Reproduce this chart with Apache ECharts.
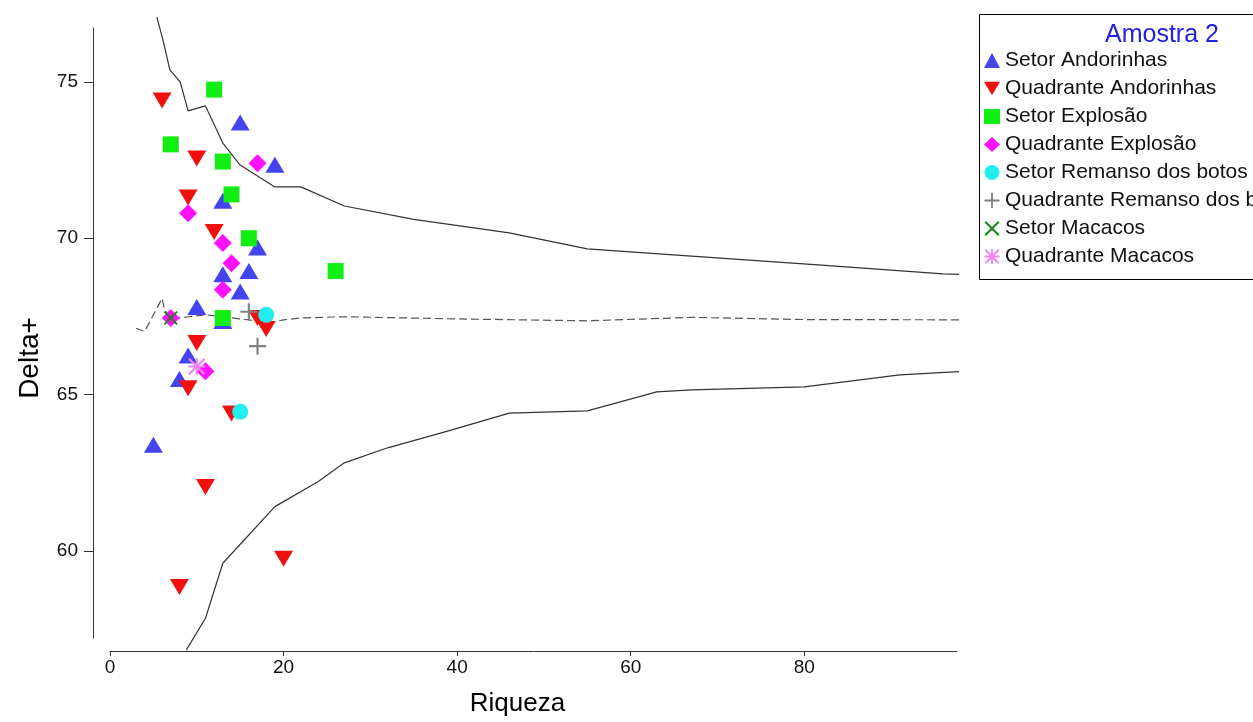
<!DOCTYPE html>
<html>
<head>
<meta charset="utf-8">
<script src="https://cdn.jsdelivr.net/npm/echarts@6/dist/echarts.min.js"></script>
<style>
  html, body { margin: 0; padding: 0; background: #fff; }
  #chart { width: 1253px; height: 722px; }
</style>
</head>
<body>
<div id="chart"></div>
<script>
// tick labels
const xTicks = [0, 20, 40, 60, 80]
const yTicks = [60, 65, 70, 75]

// funnel lines (Riqueza, Delta+)
const upperLimit = [[5.4, 77.07], [6.1, 76.34], [6.9, 75.38], [8.1, 74.99], [9, 74.07], [11, 74.23], [13, 73.04], [15, 72.34], [19, 71.64], [22, 71.64], [27, 71.03], [35, 70.6], [46, 70.17], [55, 69.66], [67, 69.43], [82, 69.14], [96, 68.86], [100, 68.83]]
const meanLine = [[3, 67.12], [4, 67.02], [6, 68.08], [6.3, 67.71], [7, 67.39], [9, 67.49], [11, 67.55], [13, 67.49], [16, 67.39], [18, 67.28], [20, 67.39], [22, 67.45], [27, 67.49], [40, 67.42], [55, 67.36], [67, 67.47], [80, 67.4], [100, 67.39]]
const lowerLimit = [[8.8, 56.84], [11, 57.85], [13, 59.61], [19, 61.42], [24, 62.22], [27, 62.82], [32, 63.3], [39, 63.84], [46, 64.41], [55, 64.48], [63, 65.09], [67, 65.15], [80, 65.25], [91, 65.63], [100, 65.77]]

// samples
const setorAndorinhas = [[5, 63.4], [15, 73.7], [19, 72.35], [13, 71.2], [17, 69.7], [16, 68.95], [13, 68.85], [15, 68.3], [10, 67.8], [13, 67.35], [9, 66.25], [8, 65.5]]
const quadranteAndorinhas = [[6, 74.4], [10, 72.55], [9, 71.3], [12, 70.2], [17, 67.45], [18, 67.1], [10, 66.65], [9, 65.2], [14, 64.4], [11, 62.05], [20, 59.75], [8, 58.85]]
const setorExplosao = [[12, 74.75], [7, 73.0], [13, 72.45], [14, 71.4], [16, 70.0], [13, 67.45], [26, 68.95]]
const quadranteExplosao = [[17, 72.4], [9, 70.8], [13, 69.85], [14, 69.2], [13, 68.35], [7, 67.45], [11, 65.75]]
const setorRemanso = [[18, 67.55], [15, 64.45]]
const quadranteRemanso = [[16, 67.65], [17, 66.55]]
const setorMacacos = [[7, 67.45]]
const quadranteMacacos = [[10, 65.9]]

const downTri = 'path://M0,0L20,0L10,17Z'
const plusPath = 'path://M7,0H9V7H16V9H9V16H7V9H0V7H7Z'
const crossPath = 'path://M0,1.5L1.5,0L8,6.5L14.5,0L16,1.5L9.5,8L16,14.5L14.5,16L8,9.5L1.5,16L0,14.5L6.5,8Z'
const starPath = 'path://M7,0H9V7H16V9H9V16H7V9H0V7H7Z M0,1.5L1.5,0L8,6.5L14.5,0L16,1.5L9.5,8L16,14.5L14.5,16L8,9.5L1.5,16L0,14.5L6.5,8Z'

const font = 'Arial, "Liberation Sans", sans-serif'

const myChart = echarts.init(document.getElementById('chart'))

const lineSeries = (data, dashed) => ({
  type: 'line',
  data: data,
  showSymbol: false,
  clip: false,
  silent: true,
  z: 1,
  lineStyle: {
    color: dashed ? '#555' : '#333',
    width: 1.2,
    type: dashed ? [8, 4] : 'solid'
  }
})

const scatter = (name, data, symbol, size, color) => ({
  name: name,
  type: 'scatter',
  data: data,
  symbol: symbol,
  symbolSize: size,
  clip: false,
  itemStyle: { color: color, opacity: 1 }
})

const option = {
  animation: false,
  backgroundColor: '#fff',
  textStyle: { fontFamily: font },
  title: {
    text: 'Amostra 2',
    left: 1100,
    top: 18,
    textStyle: { color: '#2222dd', fontSize: 25, fontWeight: 'normal', fontFamily: font }
  },
  graphic: [
    {
      type: 'rect',
      shape: { x: 979.5, y: 14.5, width: 400, height: 265 },
      style: { fill: 'none', stroke: '#000', lineWidth: 1 }
    }
  ],
  legend: {
    orient: 'vertical',
    left: 984,
    top: 50,
    itemWidth: 16,
    itemHeight: 15,
    itemGap: 7,
    padding: 0,
    textStyle: { fontSize: 21, color: '#111', lineHeight: 21, fontFamily: font },
    data: ['Setor Andorinhas', 'Quadrante Andorinhas', 'Setor Explosão', 'Quadrante Explosão',
      'Setor Remanso dos botos', 'Quadrante Remanso dos botos', 'Setor Macacos', 'Quadrante Macacos']
  },
  grid: {
    left: 110,
    right: 296,
    top: 28,
    bottom: 84
  },
  xAxis: {
    type: 'value',
    min: 0,
    max: 97.6,
    offset: 13,
    name: 'Riqueza',
    nameLocation: 'middle',
    nameGap: 40,
    nameTextStyle: { fontSize: 26, color: '#000', fontFamily: font, padding: [0, 32, 0, 0] },
    splitLine: { show: false },
    axisLine: { onZero: false, lineStyle: { color: '#333', width: 1 } },
    axisTick: { show: true, length: 5, customValues: xTicks, lineStyle: { color: '#333' } },
    axisLabel: { customValues: xTicks, fontSize: 19, color: '#111', margin: 7, fontFamily: font }
  },
  yAxis: {
    type: 'value',
    min: 57.22,
    max: 76.72,
    offset: 17,
    name: 'Delta+',
    nameLocation: 'middle',
    nameGap: 49,
    nameRotate: 90,
    nameTextStyle: { fontSize: 28, color: '#000', fontFamily: font, padding: [0, 50, 0, 0] },
    splitLine: { show: false },
    axisLine: { show: true, onZero: false, lineStyle: { color: '#333', width: 1 } },
    axisTick: { show: true, length: 9, customValues: yTicks, lineStyle: { color: '#333' } },
    axisLabel: { customValues: yTicks, fontSize: 19, color: '#111', margin: 15, fontFamily: font }
  },
  series: [
    lineSeries(upperLimit, false),
    lineSeries(lowerLimit, false),
    lineSeries(meanLine, true),
    scatter('Setor Andorinhas', setorAndorinhas, 'triangle', [19, 16], '#4343f0'),
    scatter('Quadrante Andorinhas', quadranteAndorinhas, downTri, [19, 16], '#f01010'),
    scatter('Setor Explosão', setorExplosao, 'rect', 16, '#11ee11'),
    scatter('Quadrante Explosão', quadranteExplosao, 'diamond', 18, '#ff10ff'),
    scatter('Setor Remanso dos botos', setorRemanso, 'circle', 16, '#22eeee'),
    scatter('Quadrante Remanso dos botos', quadranteRemanso, plusPath, 17, '#808080'),
    scatter('Setor Macacos', setorMacacos, crossPath, 14, '#118811'),
    scatter('Quadrante Macacos', quadranteMacacos, starPath, 17, '#ee88ee')
  ]
}

myChart.setOption(option)
</script>
</body>
</html>
